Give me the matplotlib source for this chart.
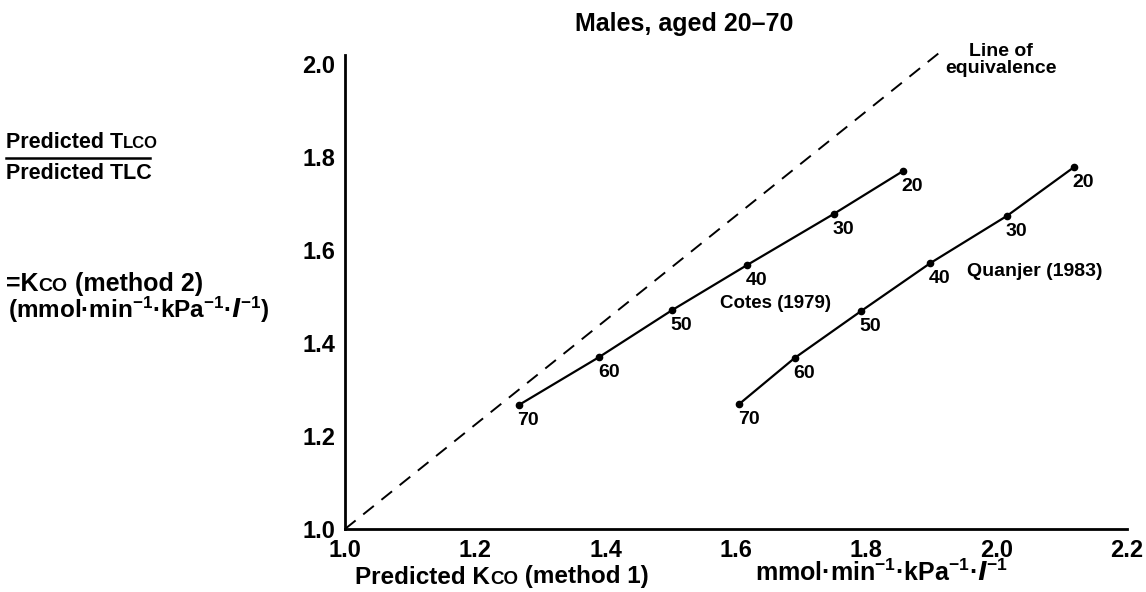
import numpy as np
import matplotlib
matplotlib.use("Agg")
import matplotlib.pyplot as plt
from matplotlib.offsetbox import TextArea, HPacker, AnnotationBbox

plt.rcParams["font.family"] = ["Liberation Sans", "DejaVu Sans"]
plt.rcParams["font.weight"] = "bold"

# predicted Kco, method 1 (x) vs method 2 (y), labelled by age
ages = ["70", "60", "50", "40", "30", "20"]
cotes_x = [1.267, 1.390, 1.502, 1.617, 1.750, 1.856]
cotes_y = [1.267, 1.370, 1.471, 1.568, 1.678, 1.770]
quanjer_x = [1.605, 1.690, 1.792, 1.898, 2.016, 2.119]
quanjer_y = [1.269, 1.368, 1.469, 1.572, 1.674, 1.779]

# line of equivalence as drawn
equiv_x = [1.0, 1.913]
equiv_y = [1.0, 2.026]

x_ticks = [1.0, 1.2, 1.4, 1.6, 1.8, 2.0, 2.2]
y_ticks = [1.0, 1.2, 1.4, 1.6, 1.8, 2.0]

UNIT = (r"mmol·min$\mathregular{^{-1}}$·kPa$\mathregular{^{-1}}$·"
        r"$\mathit{l}$$\mathregular{^{-1}}$")


def main():
    fig = plt.figure(figsize=(11.46, 5.92), dpi=100)
    ax = fig.add_axes([345 / 1146, 63 / 592, 782 / 1146, 474 / 592])

    ax.plot(equiv_x, equiv_y, color="k", lw=1.4, dashes=(7, 5), clip_on=False)

    for xs, ys in [(cotes_x, cotes_y), (quanjer_x, quanjer_y)]:
        ax.plot(xs, ys, color="k", lw=1.6, marker="o", ms=4.5, clip_on=False)
        for a, x, y in zip(ages, xs, ys):
            ax.annotate(a, (x, y), xytext=(-1, -5), textcoords="offset points",
                        ha="left", va="top", fontsize=14, fontweight="bold")

    ax.text(1.660, 1.486, "Cotes (1979)", fontsize=13.5, fontweight="bold",
            ha="center", va="center")
    ax.text(2.059, 1.555, "Quanjer (1983)", fontsize=14, fontweight="bold",
            ha="center", va="center")
    fig.text(1001 / 1146, 1 - 60 / 592, "Line of\nequivalence", fontsize=14,
             fontweight="bold", ha="center", va="center", linespacing=0.95)

    ax.set_xlim(1.0, 2.2)
    ax.set_ylim(1.0, 2.02)
    ax.set_xticks(x_ticks)
    ax.set_yticks(y_ticks)
    ax.set_xticklabels([f"{v:.1f}" for v in x_ticks])
    ax.set_yticklabels([f"{v:.1f}" for v in y_ticks])
    ax.tick_params(length=0, labelsize=17, pad=7)
    for lab in ax.get_xticklabels() + ax.get_yticklabels():
        lab.set_fontweight("bold")
    for s in ["top", "right"]:
        ax.spines[s].set_visible(False)
    for s in ["left", "bottom"]:
        ax.spines[s].set_linewidth(2)

    fig.text(684 / 1146, 1 - 24 / 592, "Males, aged 20\u201370", fontsize=18,
             fontweight="bold", ha="center", va="center")

    # text with small-capital subscripts (Kco, Tlco)
    def small_caps(parts, xy, ha="left"):
        boxes = [TextArea(t, textprops=dict(fontsize=s, fontweight="bold")) for t, s in parts]
        pack = HPacker(children=boxes, align="baseline", pad=0, sep=0)
        ab = AnnotationBbox(pack, xy, xycoords="figure pixels", frameon=False,
                            box_alignment=(0 if ha == "left" else 0.5, 0.5))
        fig.add_artist(ab)

    # x axis labels
    small_caps([("Predicted K", 17.5), ("CO", 13.5), (" (method 1)", 17.5)], (502, 592 - 577), ha="center")
    fig.text(755 / 1146, 1 - 573 / 592, UNIT,
             fontsize=18, fontweight="bold", ha="left", va="center")

    # y axis labels, drawn as a stacked fraction at the left
    small_caps([("Predicted T", 15.5), ("LCO", 12)], (6, 592 - 143))
    fig.add_artist(plt.Line2D([6 / 1146, 150 / 1146], [1 - 158 / 592, 1 - 158 / 592],
                              color="k", lw=1.8, transform=fig.transFigure))
    fig.text(6 / 1146, 1 - 174 / 592, "Predicted TLC", fontsize=15.5,
             fontweight="bold", ha="left", va="center")
    small_caps([("=K", 18), ("CO", 14), (" (method 2)", 18)], (6, 592 - 284))
    fig.text(8 / 1146, 1 - 310 / 592, "(" + UNIT + ")",
             fontsize=17.5, fontweight="bold", ha="left", va="center")

    fig.savefig("out.png", dpi=100)


if __name__ == "__main__":
    main()
